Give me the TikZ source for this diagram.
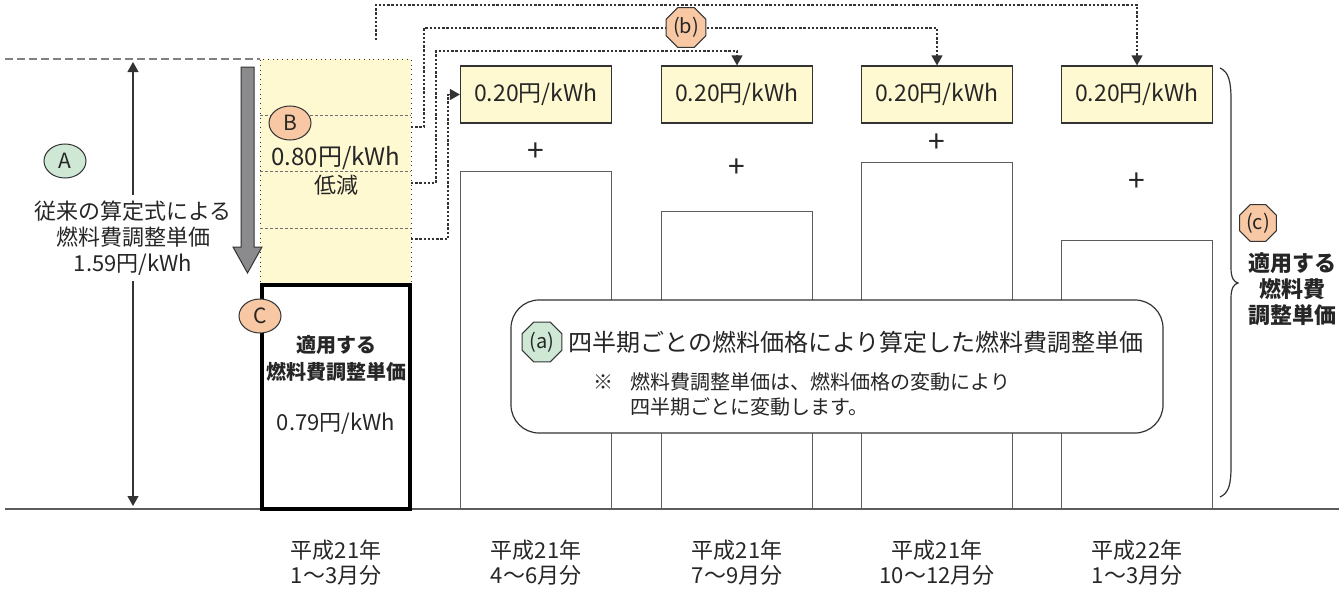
\documentclass[tikz,border=0pt]{standalone}
\usepackage{fontspec}
\setmainfont{Noto Sans CJK JP}
\usetikzlibrary{arrows.meta,shapes.geometric}
\definecolor{paleyellow}{HTML}{FFF9D2}
\definecolor{palegreen}{HTML}{CFE8D5}
\definecolor{paleorange}{HTML}{F8C8A4}
\definecolor{darkline}{HTML}{333333}
\definecolor{arrowgray}{HTML}{8B8B8D}
\begin{document}
\begin{tikzpicture}[x=0.5pt, y=-0.5pt, >={Triangle[width=5.5pt,length=5pt]},
  font=\fontsize{11}{13}\selectfont, text=black!85,
  pricebox/.style={draw=darkline, line width=0.6pt, fill=paleyellow, minimum width=75.5pt, minimum height=28.5pt, inner sep=0pt, font=\fontsize{11.5}{13}\selectfont},
  bar/.style={draw=darkline!80, line width=0.6pt, fill=white, minimum width=75.5pt, anchor=south, inner sep=0pt},
  letter/.style={ellipse, draw=darkline, line width=0.5pt, minimum width=21pt, minimum height=17pt, inner sep=0pt, font=\fontsize{10.5}{10.5}\selectfont},
  octo/.style={regular polygon, regular polygon sides=8, draw=darkline, line width=0.5pt, minimum size=21.5pt, inner sep=0pt, font=\fontsize{10}{10}\selectfont},
  link/.style={draw=darkline, line width=0.6pt, dash pattern=on 1.2pt off 0.9pt},
  divider/.style={draw=darkline!70, line width=0.4pt, dash pattern=on 1.5pt off 1pt},
  plus/.style={font=\fontsize{15}{15}\selectfont, inner sep=0pt}]
\useasboundingbox (0,0) rectangle (1339,589);

\draw[darkline!80, line width=0.6pt] (5,509) -- (1339,509);
\draw[gray, line width=0.6pt, dash pattern=on 4pt off 2pt] (5,59) -- (260,59);

% quarterly bars
\node[bar, minimum height=168.5pt] (bar1) at (536,509) {};
\node[bar, minimum height=148.5pt] (bar2) at (737,509) {};
\node[bar, minimum height=173pt] (bar3) at (937,509) {};
\node[bar, minimum height=134pt] (bar4) at (1137,509) {};

\node[pricebox] (p1) at (536,94.5) {0.20円/kWh};
\node[pricebox] (p2) at (737,94.5) {0.20円/kWh};
\node[pricebox] (p3) at (937,94.5) {0.20円/kWh};
\node[pricebox] (p4) at (1137,94.5) {0.20円/kWh};

\node[plus] (plus1) at (536,152) {+};
\node[plus] (plus2) at (737,168) {+};
\node[plus] (plus3) at (937,143) {+};
\node[plus] (plus4) at (1137,182) {+};

% former unit price
\coordinate (atop) at (133,62);
\coordinate (abot) at (133,506);
\draw[<->, line width=0.6pt, darkline] (atop) -- (abot);
\node[fill=white, align=center, inner sep=3pt] (old) at (133,238) {従来の算定式による\\燃料費調整単価\\1.59円/kWh};
\node[letter, fill=palegreen] (A) at (65,161) {A};

% reduction
\node[draw=darkline, dotted, fill=paleyellow, minimum width=75.5pt, minimum height=112.5pt, inner sep=0pt] (cut) at (335.5,171.5) {};
\foreach \y in {115,171,228}
  \draw[divider] (260,\y) -- (411,\y);
\draw[fill=arrowgray, draw=darkline, line width=0.5pt] (241,67) -- (254,67) -- (254,247) -- (262,247) -- (247.5,273) -- (233,247) -- (241,247) -- cycle;
\node[letter, fill=paleorange] (B) at (290,123) {B};
\node[font=\fontsize{12}{12}\selectfont] (cutval) at (336,158) {0.80円/kWh};
\node (cuttext) at (336,185) {低減};

% applied unit price
\node[draw=black, line width=2pt, fill=white, minimum width=74pt, minimum height=112pt, inner sep=0pt] (applied) at (336,397) {};
\node[letter, fill=paleorange] (C) at (260,316) {C};
\node[align=center, font=\bfseries\fontsize{10}{13.5}\selectfont] (appliedtext) at (336,358) {適用する\\燃料費調整単価};
\node (appliedval) at (336,424) {0.79円/kWh};

% connectors
\coordinate (q1) at (376,40);
\coordinate (q2) at (411,127);
\coordinate (q3) at (411,183);
\coordinate (q4) at (411,239);
\draw[link,->] (q1) -- ++(0,-35) -| (p4.north);
\draw[link,->] (q2) -- ++(13,0) -- ++(0,-99) -| (p3.north);
\draw[link,->] (q3) -- ++(25,0) -- ++(0,-132) -| (p2.north);
\draw[link,->] (q4) -- ++(37,0) |- (p1.west);
\node[octo, fill=paleorange] (b) at (686,27.5) {(b)};

% note
\node[draw=darkline, fill=white, rounded corners=14pt, line width=0.6pt, minimum width=326pt, minimum height=66.5pt] (note) at (837,366.5) {};
\node[octo, fill=palegreen] (a) at (542,342) {(a)};
\node[anchor=west, font=\fontsize{12}{12}\selectfont, inner sep=0pt] (atext) at (568,342) {四半期ごとの燃料価格により算定した燃料費調整単価};
\node[font=\fontsize{10}{10}\selectfont] (mark) at (603,382) {※};
\node[anchor=west, align=left, font=\fontsize{10}{12.5}\selectfont, inner sep=0pt] (notetext) at (630,394.5) {燃料費調整単価は、燃料価格の変動により\\四半期ごとに変動します。};

% brace
\draw[line width=0.6pt, darkline] (1220,68) .. controls (1229,72) and (1231,82) .. (1231,100) -- (1231,268) .. controls (1231,278) and (1234,282) .. (1238,283) .. controls (1234,284) and (1231,288) .. (1231,298) -- (1231,466) .. controls (1231,484) and (1229,493) .. (1220,497);
\node[octo, fill=paleorange, minimum size=20pt] (c) at (1258,223) {(c)};
\node[align=center, font=\bfseries\fontsize{11}{13}\selectfont] (ctext) at (1292,289) {適用する\\燃料費\\調整単価};

% periods
\node[align=center, font=\fontsize{11}{12.5}\selectfont] (t0) at (336,563) {平成21年\\1〜3月分};
\node[align=center, font=\fontsize{11}{12.5}\selectfont] (t1) at (536,563) {平成21年\\4〜6月分};
\node[align=center, font=\fontsize{11}{12.5}\selectfont] (t2) at (737,563) {平成21年\\7〜9月分};
\node[align=center, font=\fontsize{11}{12.5}\selectfont] (t3) at (937,563) {平成21年\\10〜12月分};
\node[align=center, font=\fontsize{11}{12.5}\selectfont] (t4) at (1137,563) {平成22年\\1〜3月分};

\end{tikzpicture}
\end{document}
